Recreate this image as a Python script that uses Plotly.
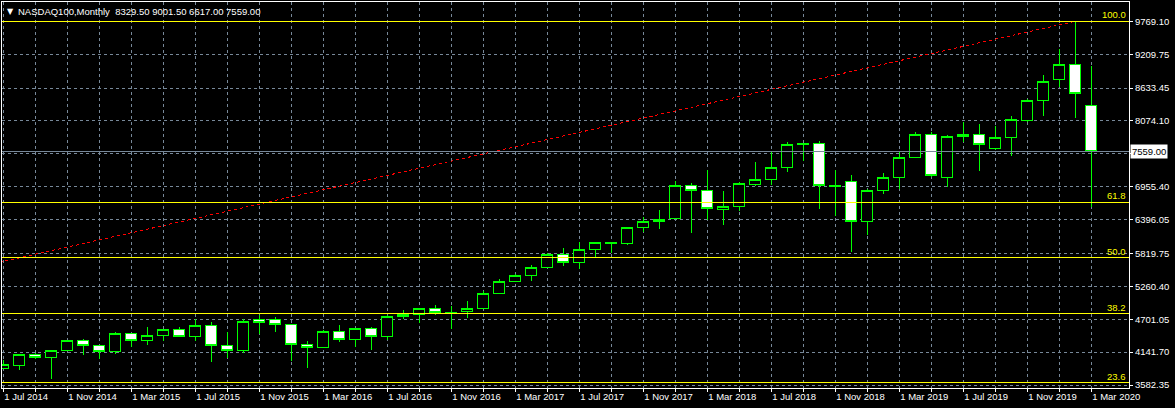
import plotly.graph_objects as go
import pandas as pd

# ---- data (monthly candles, Jul 2014 .. Mar 2020) ----
months = [d.strftime("%b %Y") for d in pd.date_range("2014-07-01", periods=69, freq="MS")]

open_ = [3867, 3911, 4105, 4054, 4166, 4343,
         4258, 4149, 4467, 4336, 4428, 4530, 4404, 4603, 4258, 4166, 4700, 4700,
         4615, 4275, 4224, 4496, 4360, 4547, 4411, 4744, 4785, 4887, 4812, 4830,
         4887, 5142, 5347, 5448, 5578, 5806, 5670, 5884, 6005, 5986, 6265, 6367,
         6411, 6979, 6894, 6571, 6622, 6990, 7075, 7279, 7688, 7694, 6975, 7048,
         6367, 6894, 7115, 7456, 7847, 7115, 7813, 7847, 7602, 7789, 8090, 8419,
         8776, 9026, 8329.5]
high = [4008, 4115, 4120, 4168, 4352, 4360,
        4265, 4479, 4475, 4569, 4540, 4569, 4700, 4649, 4484, 4700, 4768, 4744,
        4626, 4331, 4510, 4603, 4560, 4569, 4768, 4858, 4900, 4938, 4926, 5011,
        5182, 5386, 5470, 5618, 5833, 5913, 6015, 6020, 6015, 6275, 6435, 6559,
        7058, 7013, 7240, 6883, 7036, 7376, 7546, 7716, 7700, 7728, 7240, 7155,
        6911, 7189, 7563, 7881, 7881, 7835, 8056, 8022, 7983, 8158, 8453, 8856,
        9298, 9769, 9001.5]
low = [3860, 3843, 4030, 3685, 4158, 4093,
       4030, 4105, 4234, 4263, 4336, 4395, 4336, 3979, 4037, 4122, 4445, 4489,
       3991, 3877, 4210, 4309, 4224, 4178, 4348, 4700, 4642, 4773, 4540, 4717,
       4870, 5130, 5330, 5357, 5570, 5607, 5561, 5760, 5833, 5960, 6180, 6236,
       6401, 6173, 6389, 6304, 6547, 6962, 6990, 7211, 7393, 6581, 6462, 5840,
       6139, 6837, 6911, 7440, 7115, 6945, 7721, 7228, 7580, 7483, 8060, 8158,
       8646, 8129, 6617]
close = [3923, 4105, 4054, 4161, 4343, 4258,
         4156, 4467, 4336, 4428, 4530, 4404, 4603, 4251, 4173, 4666, 4649, 4615,
         4275, 4224, 4496, 4360, 4547, 4411, 4751, 4778, 4887, 4819, 4806, 4887,
         5142, 5347, 5448, 5585, 5806, 5670, 5891, 6010, 5998, 6265, 6367, 6401,
         6979, 6894, 6588, 6627, 7002, 7081, 7286, 7677, 7680, 6973, 6965, 6367,
         6894, 7115, 7456, 7847, 7150, 7818, 7852, 7677, 7796, 8102, 8430, 8753,
         9026, 8537, 7559]

y_ticks = [9769.10, 9209.75, 8633.45, 8074.10, 7514.75, 6955.40, 6396.05,
           5819.75, 5260.40, 4701.05, 4141.70, 3582.35]
x_tick_labels = ["1 Jul 2014", "1 Nov 2014", "1 Mar 2015", "1 Jul 2015", "1 Nov 2015",
                 "1 Mar 2016", "1 Jul 2016", "1 Nov 2016", "1 Mar 2017", "1 Jul 2017",
                 "1 Nov 2017", "1 Mar 2018", "1 Jul 2018", "1 Nov 2018", "1 Mar 2019",
                 "1 Jul 2019", "1 Nov 2019", "1 Mar 2020"]

fib_levels = [100.0, 61.8, 50.0, 38.2, 23.6]
fib_low_value = 1722
fib_high_value = 9769
fib_low_index = -65   # Feb 2009 (off-screen anchor)
fib_high_index = 67   # Feb 2020

last_price = 7559.00
title_text = "NASDAQ100,Monthly  8329.50 9001.50 6617.00 7559.00"

# ---- figure ----
x = list(range(len(months)))
GREEN = "#00ff00"
GRID = "#778899"
FONT = "Liberation Sans"

fig = go.Figure()
fig.add_trace(go.Candlestick(
    x=x, open=open_, high=high, low=low, close=close,
    increasing=dict(line=dict(color=GREEN, width=1), fillcolor="black"),
    decreasing=dict(line=dict(color=GREEN, width=1), fillcolor="white"),
    whiskerwidth=0, hoverinfo="skip", showlegend=False,
))

# fibonacci trend line (red dashed)
fig.add_trace(go.Scatter(
    x=[fib_low_index, fib_high_index], y=[fib_low_value, fib_high_value],
    mode="lines", line=dict(color="#ff0000", width=1, dash="3px,3px"),
    hoverinfo="skip", showlegend=False,
))

shapes = []
annotations = []
for lvl in fib_levels:
    val = fib_low_value + lvl / 100.0 * (fib_high_value - fib_low_value)
    shapes.append(dict(type="line", xref="paper", x0=0, x1=1, yref="y", y0=val, y1=val,
                       line=dict(color="#ffff00", width=1), layer="above"))
    annotations.append(dict(xref="paper", x=1, xanchor="right", yref="y", y=val,
                            yanchor="bottom", text=f"{lvl:.1f}", showarrow=False,
                            xshift=-1, yshift=-1,
                            font=dict(color="#ffff00", size=9.5, family=FONT)))

# last price line + label
shapes.append(dict(type="line", xref="paper", x0=0, x1=1, yref="y", y0=last_price, y1=last_price,
                   line=dict(color=GRID, width=1), layer="above"))
annotations.append(dict(xref="paper", x=1, xanchor="left", yref="y", y=last_price,
                        yanchor="middle", text=f"{last_price:.2f}", showarrow=False,
                        xshift=1, bgcolor="white", borderpad=1,
                        font=dict(color="black", size=9.5, family=FONT)))

# title
annotations.append(dict(xref="paper", yref="paper", x=0, y=1, xanchor="left", yanchor="top",
                        text="▼", showarrow=False, xshift=3, yshift=-3,
                        font=dict(color="white", size=8, family="DejaVu Sans")))
annotations.append(dict(xref="paper", yref="paper", x=0, y=1, xanchor="left", yanchor="top",
                        text=title_text, showarrow=False, xshift=14, yshift=-2,
                        font=dict(color="white", size=9.5, family=FONT)))

grid_x = list(range(0, len(months), 2))
grid_text = []
for i in grid_x:
    if i % 4 == 0:
        grid_text.append(x_tick_labels[i // 4])
    else:
        grid_text.append("")

# the 7514.75 label sits under the last-price box
y_text = ["" if abs(v - 7514.75) < 0.01 else f"{v:.2f}" for v in y_ticks]

fig.update_layout(
    width=1175, height=408,
    paper_bgcolor="black", plot_bgcolor="black",
    margin=dict(l=2, r=46, t=2, b=20, autoexpand=False),
    showlegend=False,
    boxgap=0.33, boxgroupgap=0,
    shapes=shapes, annotations=annotations,
    hovermode=False,
    xaxis=dict(
        range=[-0.08, 70.36], tickmode="array", tickvals=grid_x, ticktext=grid_text,
        showgrid=True, gridcolor=GRID, gridwidth=1, griddash="3px,3px",
        showline=True, linecolor="white", linewidth=1, mirror=True,
        ticks="outside", ticklen=3, tickcolor="white",
        ticklabelposition="outside right",
        tickfont=dict(color="white", size=9.5, family=FONT),
        zeroline=False, rangeslider=dict(visible=False), fixedrange=True,
    ),
    yaxis=dict(
        side="right", range=[3531.5, 10097.4], tickmode="array", tickvals=y_ticks,
        ticktext=y_text,
        showgrid=True, gridcolor=GRID, gridwidth=1, griddash="3px,3px",
        showline=True, linecolor="white", linewidth=1, mirror=True,
        ticks="outside", ticklen=3, tickcolor="white",
        tickfont=dict(color="white", size=9.5, family=FONT),
        zeroline=False, fixedrange=True,
    ),
)

post = (
    "document.body.style.margin='0';document.body.style.padding='0';"
    "document.body.style.background='black';"
    "var st=document.createElement('style');"
    "st.textContent='.js-plotly-plot svg path{shape-rendering:crispEdges;}';"
    "document.head.appendChild(st);"
)

fig.write_html("out.html", config={"displayModeBar": False}, post_script=post)
